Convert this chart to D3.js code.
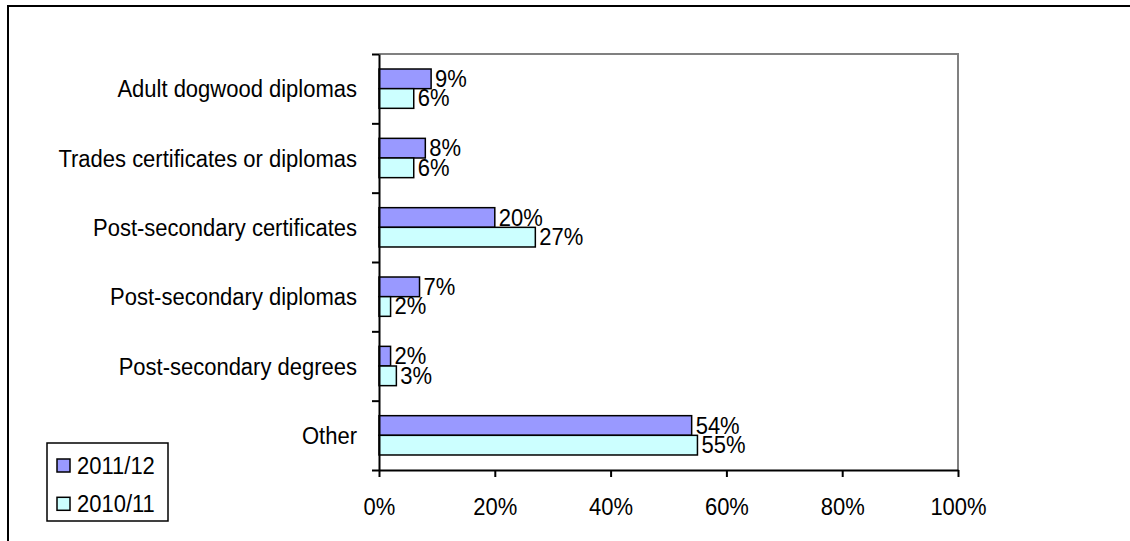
<!DOCTYPE html>
<html>
<head>
<meta charset="utf-8">
<script src="https://cdn.jsdelivr.net/npm/d3@7"></script>
<style>
  body { margin: 0; background: #fff; }
  svg text { font-family: "Liberation Sans", Arial, sans-serif; fill: #000; }
</style>
</head>
<body>
<svg id="chart" width="1130" height="541"></svg>
<script>
// categories, top to bottom as drawn
const categories = [
  "Adult dogwood diplomas",
  "Trades certificates or diplomas",
  "Post-secondary certificates",
  "Post-secondary diplomas",
  "Post-secondary degrees",
  "Other"
];
const seriesNames = ["2011/12", "2010/11"];
const values2011 = [9, 8, 20, 7, 2, 54];
const values2010 = [6, 6, 27, 2, 3, 55];
const xTicks = [0, 20, 40, 60, 80, 100];
const seriesColors = ["#9999ff", "#ccffff"];

const fontSize = 22;
const textStretch = 1.09; // the source text is a little taller than plain Arial
const plot = { left: 379, top: 54, right: 958, bottom: 470 };

const svg = d3.select("#chart");

// moves x/y into a transform so the glyphs can be stretched from the baseline
function stretch(sel) {
  sel.each(function () {
    const t = d3.select(this);
    const x = +t.attr("x") || 0;
    const y = +t.attr("y") || 0;
    t.attr("x", 0).attr("y", 0)
      .attr("transform", "translate(" + x + "," + y + ") scale(1," + textStretch + ")");
  });
}

// outer frame (runs off the right and bottom edges)
svg.append("rect")
  .attr("x", 8).attr("y", 6)
  .attr("width", 1140).attr("height", 560)
  .attr("fill", "none").attr("stroke", "#000").attr("stroke-width", 2);

const xScale = d3.scaleLinear().domain([0, 100]).range([plot.left, plot.right]);
const yScale = d3.scaleBand().domain(categories).range([plot.top, plot.bottom]).padding(0);
const ySub = d3.scaleBand().domain(seriesNames)
  .range([yScale.bandwidth() * 0.2165, yScale.bandwidth() * 0.7835]);

// plot area top and right edges in grey
svg.append("path")
  .attr("d", `M${plot.left},${plot.top}H${plot.right}V${plot.bottom}`)
  .attr("fill", "none").attr("stroke", "#808080").attr("stroke-width", 2);

const rows = categories.map((c, i) => ({
  cat: c,
  vals: [
    { s: seriesNames[0], v: values2011[i], color: seriesColors[0] },
    { s: seriesNames[1], v: values2010[i], color: seriesColors[1] }
  ]
}));

const groups = svg.selectAll(".cat-g")
  .data(rows)
  .join("g")
  .attr("class", "cat-g")
  .attr("transform", d => "translate(0," + yScale(d.cat) + ")");

groups.selectAll("rect")
  .data(d => d.vals)
  .join("rect")
  .attr("x", xScale(0))
  .attr("y", d => ySub(d.s))
  .attr("width", d => xScale(d.v) - xScale(0))
  .attr("height", ySub.bandwidth())
  .attr("fill", d => d.color)
  .attr("stroke", "#000")
  .attr("stroke-width", 1.5);

groups.selectAll(".val-label")
  .data(d => d.vals)
  .join("text")
  .attr("class", "val-label")
  .attr("x", d => xScale(d.v) + 4)
  .attr("y", d => ySub(d.s) + ySub.bandwidth() / 2 + 8)
  .attr("font-size", fontSize)
  .text(d => d.v + "%")
  .call(stretch);

// category labels
svg.selectAll(".cat-label")
  .data(categories)
  .join("text")
  .attr("class", "cat-label")
  .attr("x", plot.left - 22)
  .attr("y", d => yScale(d) + yScale.bandwidth() / 2 + 8.5)
  .attr("text-anchor", "end")
  .attr("font-size", fontSize)
  .text(d => d)
  .call(stretch);

// y axis, ticks on category boundaries
const yEdge = d3.scaleLinear().domain([0, categories.length]).range([plot.top, plot.bottom]);
const yAxis = svg.append("g")
  .attr("transform", "translate(" + plot.left + ",0)")
  .call(d3.axisLeft(yEdge).tickValues(d3.range(categories.length + 1)).tickSize(7).tickSizeOuter(0).tickFormat(""));
yAxis.selectAll("path, line").attr("stroke", "#000").attr("stroke-width", 2);

// x axis
const xAxis = svg.append("g")
  .attr("transform", "translate(0," + plot.bottom + ")")
  .call(d3.axisBottom(xScale).tickValues(xTicks).tickSize(7).tickSizeOuter(0).tickFormat(d => d + "%"));
xAxis.selectAll("path, line").attr("stroke", "#000").attr("stroke-width", 2);
xAxis.selectAll("text")
  .attr("font-size", fontSize)
  .attr("font-family", "Liberation Sans, Arial, sans-serif")
  .attr("dy", null)
  .attr("y", 45)
  .call(stretch);

// legend
const legend = svg.append("g").attr("transform", "translate(47,443)");
legend.append("rect")
  .attr("width", 121).attr("height", 78)
  .attr("fill", "#fff").attr("stroke", "#000").attr("stroke-width", 1.5);
const legendRows = legend.selectAll(".leg-row")
  .data(seriesNames)
  .join("g")
  .attr("class", "leg-row")
  .attr("transform", (d, i) => "translate(0," + (22.5 + i * 38.3) + ")");
legendRows.append("rect")
  .attr("x", 10).attr("y", -6.5)
  .attr("width", 13).attr("height", 13)
  .attr("fill", (d, i) => seriesColors[i])
  .attr("stroke", "#000").attr("stroke-width", 1.5);
legendRows.append("text")
  .attr("x", 30).attr("y", 8.5)
  .attr("font-size", fontSize)
  .text(d => d)
  .call(stretch);
</script>
</body>
</html>
